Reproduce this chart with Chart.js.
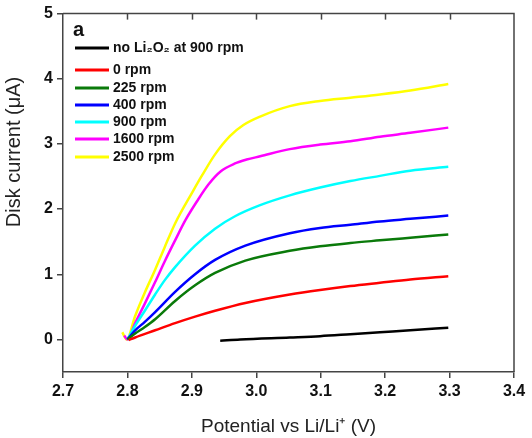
<!DOCTYPE html>
<html>
<head>
<meta charset="utf-8">
<script src="https://cdn.jsdelivr.net/npm/chart.js@4"></script>
<style>
html,body{margin:0;padding:0;background:#fff;}
canvas{display:block;}
</style>
</head>
<body>
<canvas id="c" width="532" height="438"></canvas>
<script>
const seriesLabels = ["no Li\u2082O\u2082 at 900 rpm", "0 rpm", "225 rpm", "400 rpm", "900 rpm", "1600 rpm", "2500 rpm"];
const seriesColors = ["#000000", "#ff0000", "#0a7a0a", "#0000ff", "#00ffff", "#ff00ff", "#ffff00"];

const xNoLi2O2 = [2.944, 2.975, 3.052, 3.099, 3.146, 3.192, 3.239, 3.298];
const yNoLi2O2 = [-0.02, 0.0, 0.03, 0.05, 0.08, 0.11, 0.14, 0.18];

const x0 = [2.802, 2.812, 2.843, 2.874, 2.905, 2.936, 2.983, 3.052, 3.099, 3.146, 3.192, 3.239, 3.298];
const y0 = [-0.01, 0.03, 0.14, 0.25, 0.35, 0.44, 0.56, 0.69, 0.76, 0.82, 0.87, 0.92, 0.97];

const x225 = [2.80, 2.812, 2.827, 2.843, 2.874, 2.905, 2.936, 2.983, 3.052, 3.099, 3.146, 3.192, 3.239, 3.298];
const y225 = [0.0, 0.09, 0.19, 0.31, 0.59, 0.83, 1.02, 1.21, 1.36, 1.43, 1.48, 1.52, 1.56, 1.61];

const x400 = [2.80, 2.812, 2.827, 2.843, 2.874, 2.905, 2.936, 2.983, 3.052, 3.099, 3.146, 3.192, 3.239, 3.298];
const y400 = [0.0, 0.14, 0.27, 0.42, 0.73, 1.0, 1.22, 1.44, 1.63, 1.71, 1.76, 1.81, 1.85, 1.90];

const x900 = [2.80, 2.812, 2.827, 2.843, 2.858, 2.874, 2.905, 2.936, 2.967, 3.006, 3.052, 3.099, 3.146, 3.192, 3.239, 3.298];
const y900 = [0.0, 0.21, 0.44, 0.69, 0.91, 1.11, 1.44, 1.70, 1.89, 2.06, 2.21, 2.33, 2.43, 2.51, 2.59, 2.65];

const x1600 = [2.795, 2.80, 2.812, 2.827, 2.843, 2.858, 2.874, 2.890, 2.908, 2.926, 2.945, 2.967, 2.985, 3.006, 3.052, 3.099, 3.146, 3.192, 3.239, 3.298];
const y1600 = [0.06, 0.0, 0.25, 0.55, 0.88, 1.20, 1.52, 1.83, 2.12, 2.38, 2.58, 2.70, 2.76, 2.81, 2.92, 2.99, 3.04, 3.11, 3.17, 3.25];

const x2500 = [2.792, 2.799, 2.812, 2.827, 2.843, 2.858, 2.874, 2.902, 2.916, 2.936, 2.959, 2.98, 3.006, 3.052, 3.099, 3.146, 3.192, 3.239, 3.298];
const y2500 = [0.11, 0.0, 0.36, 0.72, 1.07, 1.42, 1.78, 2.28, 2.52, 2.84, 3.12, 3.29, 3.42, 3.58, 3.66, 3.71, 3.76, 3.82, 3.92];

const xTicks = [2.7, 2.8, 2.9, 3.0, 3.1, 3.2, 3.3, 3.4];
const yTicks = [0, 1, 2, 3, 4, 5];

const allX = [xNoLi2O2, x0, x225, x400, x900, x1600, x2500];
const allY = [yNoLi2O2, y0, y225, y400, y900, y1600, y2500];

const FONT = "'Liberation Sans', Arial, sans-serif";
const AXIS_COLOR = "#444";

const datasets = seriesLabels.map((lab, i) => ({
  label: lab,
  data: allX[i].map((x, j) => ({x: x, y: allY[i][j]})),
  borderColor: seriesColors[i],
  backgroundColor: seriesColors[i],
  borderWidth: 2.5,
  showLine: true,
  pointRadius: 0,
  cubicInterpolationMode: 'monotone',
  fill: false
}));

const framePlugin = {
  id: 'frame',
  afterDraw(chart) {
    const ctx = chart.ctx;
    const a = chart.chartArea;
    const xs = chart.scales.x;
    ctx.save();
    ctx.strokeStyle = AXIS_COLOR;
    ctx.lineWidth = 1.5;
    ctx.beginPath();
    ctx.moveTo(a.left, a.top);
    ctx.lineTo(a.right, a.top);
    ctx.lineTo(a.right, a.bottom);
    ctx.stroke();
    xTicks.forEach(v => {
      if (v <= xs.min || v >= xs.max) return;
      const px = Math.round(xs.getPixelForValue(v)) + 0.5;
      ctx.beginPath();
      ctx.moveTo(px, a.top);
      ctx.lineTo(px, a.top + 6);
      ctx.stroke();
    });
    ctx.fillStyle = '#222';
    ctx.font = "20px " + FONT;
    ctx.textAlign = 'center';
    ctx.textBaseline = 'middle';
    ctx.translate(14, 152);
    ctx.rotate(-Math.PI / 2);
    ctx.fillText("Disk current (\u03bcA)", 0, 0);
    ctx.restore();

    ctx.save();
    ctx.fillStyle = '#111';
    ctx.font = "bold 20px " + FONT;
    ctx.textAlign = 'left';
    ctx.textBaseline = 'middle';
    ctx.fillText("a", a.left + 10, a.top + 17);
    ctx.font = "bold 14px " + FONT;
    const rows = [48, 70, 88, 105, 122, 139, 157];
    chart.data.datasets.forEach((ds, i) => {
      const y = rows[i];
      ctx.strokeStyle = ds.borderColor;
      ctx.lineWidth = 3;
      ctx.beginPath();
      ctx.moveTo(a.left + 12, y);
      ctx.lineTo(a.left + 46, y);
      ctx.stroke();
      ctx.fillStyle = '#111';
      ctx.fillText(ds.label, a.left + 50, y);
    });
    ctx.restore();
  }
};

new Chart(document.getElementById('c'), {
  type: 'scatter',
  data: { datasets: datasets },
  options: {
    responsive: false,
    animation: false,
    layout: { padding: { top: 8, right: 18, left: 0, bottom: 0 } },
    plugins: { legend: { display: false }, tooltip: { enabled: false } },
    scales: {
      x: {
        type: 'linear',
        min: 2.7, max: 3.4,
        afterBuildTicks: s => { s.ticks = xTicks.map(v => ({value: v})); },
        afterFit: s => { s.height = 66; },
        ticks: {
          callback: v => Number(v).toFixed(1),
          font: { family: FONT, size: 16, weight: 'bold' },
          color: '#111',
          padding: 4,
          maxRotation: 0
        },
        grid: { drawOnChartArea: false, tickLength: 6, color: AXIS_COLOR, lineWidth: 1.5 },
        border: { color: AXIS_COLOR, width: 1.5 },
        title: {
          display: true,
          text: "Potential vs Li/Li\u207a (V)",
          font: { family: FONT, size: 19 },
          color: '#222',
          padding: { top: 8, bottom: 0 }
        }
      },
      y: {
        type: 'linear',
        min: -0.5, max: 5,
        afterBuildTicks: s => { s.ticks = yTicks.map(v => ({value: v})); },
        afterFit: s => { s.width = 63; },
        ticks: {
          callback: v => String(v),
          font: { family: FONT, size: 16, weight: 'bold' },
          color: '#111',
          padding: 4
        },
        grid: { drawOnChartArea: false, tickLength: 6, color: AXIS_COLOR, lineWidth: 1.5 },
        border: { color: AXIS_COLOR, width: 1.5 }
      }
    }
  },
  plugins: [framePlugin]
});
</script>
</body>
</html>
